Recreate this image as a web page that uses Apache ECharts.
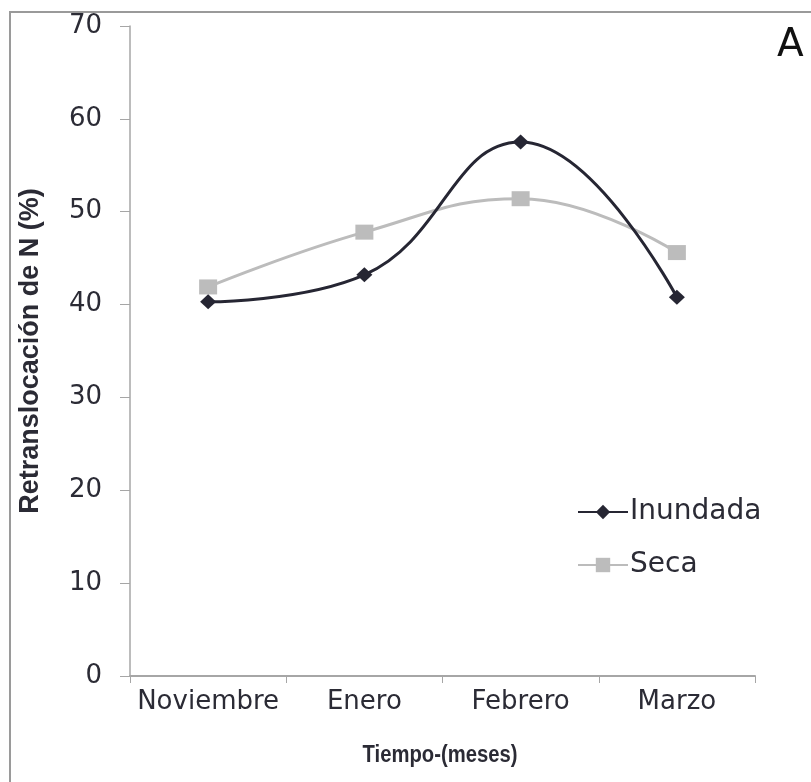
<!DOCTYPE html>
<html>
<head>
<meta charset="utf-8">
<script src="https://cdn.jsdelivr.net/npm/echarts@6/dist/echarts.min.js"></script>
<style>
  html, body { margin: 0; padding: 0; background: #fff; }
  #chart { width: 811px; height: 782px; }
</style>
</head>
<body>
<div id="chart"></div>
<script>
// Retranslocación de N por mes, parcelas inundada y seca
const meses = ['Noviembre', 'Enero', 'Febrero', 'Marzo'];
const inundada = [40.3, 43.2, 57.5, 40.8];
const seca = [41.9, 47.8, 51.4, 45.6];
const yTicks = [0, 10, 20, 30, 40, 50, 60, 70];
const xTitle = 'Tiempo-(meses)';
const yTitle = 'Retranslocación de N (%)';

const textColor = '#2b2b35';
const axisColor = '#a6a6a6';
const wideFont = 'DejaVu Sans, Verdana, sans-serif';
const titleFont = 'Liberation Sans, Arial, sans-serif';

const chart = echarts.init(document.getElementById('chart'));
chart.setOption({
  backgroundColor: '#ffffff',
  animation: false,
  graphic: [
    {
      type: 'rect',
      shape: { x: 10, y: 12, width: 830, height: 800 },
      style: { fill: 'none', stroke: '#9a9a9a', lineWidth: 2 }
    },
    {
      type: 'text',
      left: 777, top: 26,
      style: { text: 'A', fontSize: 39, fontFamily: wideFont, fill: '#111' }
    },
    {
      // slightly condensed bold title under the category axis
      type: 'text',
      x: 440, y: 756,
      scaleX: 0.88,
      style: {
        text: xTitle, fontSize: 23, fontWeight: 'bold', fontFamily: titleFont,
        fill: textColor, align: 'center', verticalAlign: 'middle'
      }
    }
  ],
  grid: { left: 130, right: 56, top: 26, bottom: 106 },
  legend: {
    orient: 'vertical',
    left: 572, top: 493,
    itemGap: 25,
    itemWidth: 50, itemHeight: 18,
    textStyle: { fontSize: 28, color: textColor, fontFamily: wideFont, padding: [0, 0, 0, -3] },
    data: ['Inundada', 'Seca']
  },
  xAxis: {
    type: 'category',
    data: meses,
    boundaryGap: true,
    axisLine: { lineStyle: { color: axisColor, width: 2 } },
    axisTick: { show: true, interval: 0, length: 7, lineStyle: { color: axisColor, width: 1 } },
    axisLabel: { interval: 0, fontSize: 26, color: textColor, margin: 13, fontFamily: wideFont },
    splitLine: { show: false }
  },
  yAxis: {
    type: 'value',
    min: yTicks[0],
    max: yTicks[yTicks.length - 1],
    interval: 10,
    name: yTitle,
    nameLocation: 'middle',
    nameGap: 86,
    nameTextStyle: { fontSize: 27, fontWeight: 'bold', color: textColor, fontFamily: titleFont },
    axisLine: { show: true, lineStyle: { color: axisColor, width: 1.5 } },
    axisTick: { show: true, inside: false, length: 10, lineStyle: { color: axisColor, width: 1 } },
    axisLabel: { fontSize: 26, color: textColor, margin: 28, fontFamily: wideFont },
    splitLine: { show: false }
  },
  series: [
    {
      name: 'Inundada',
      type: 'line',
      data: inundada,
      smooth: 0.45,
      symbol: 'diamond',
      symbolSize: [16, 15],
      lineStyle: { color: '#262633', width: 3 },
      itemStyle: { color: '#262633' },
      z: 3
    },
    {
      name: 'Seca',
      type: 'line',
      data: seca,
      smooth: 0.45,
      symbol: 'rect',
      symbolSize: [18, 15],
      lineStyle: { color: '#bcbcbc', width: 3 },
      itemStyle: { color: '#bcbcbc' },
      z: 2
    }
  ]
});
</script>
</body>
</html>
